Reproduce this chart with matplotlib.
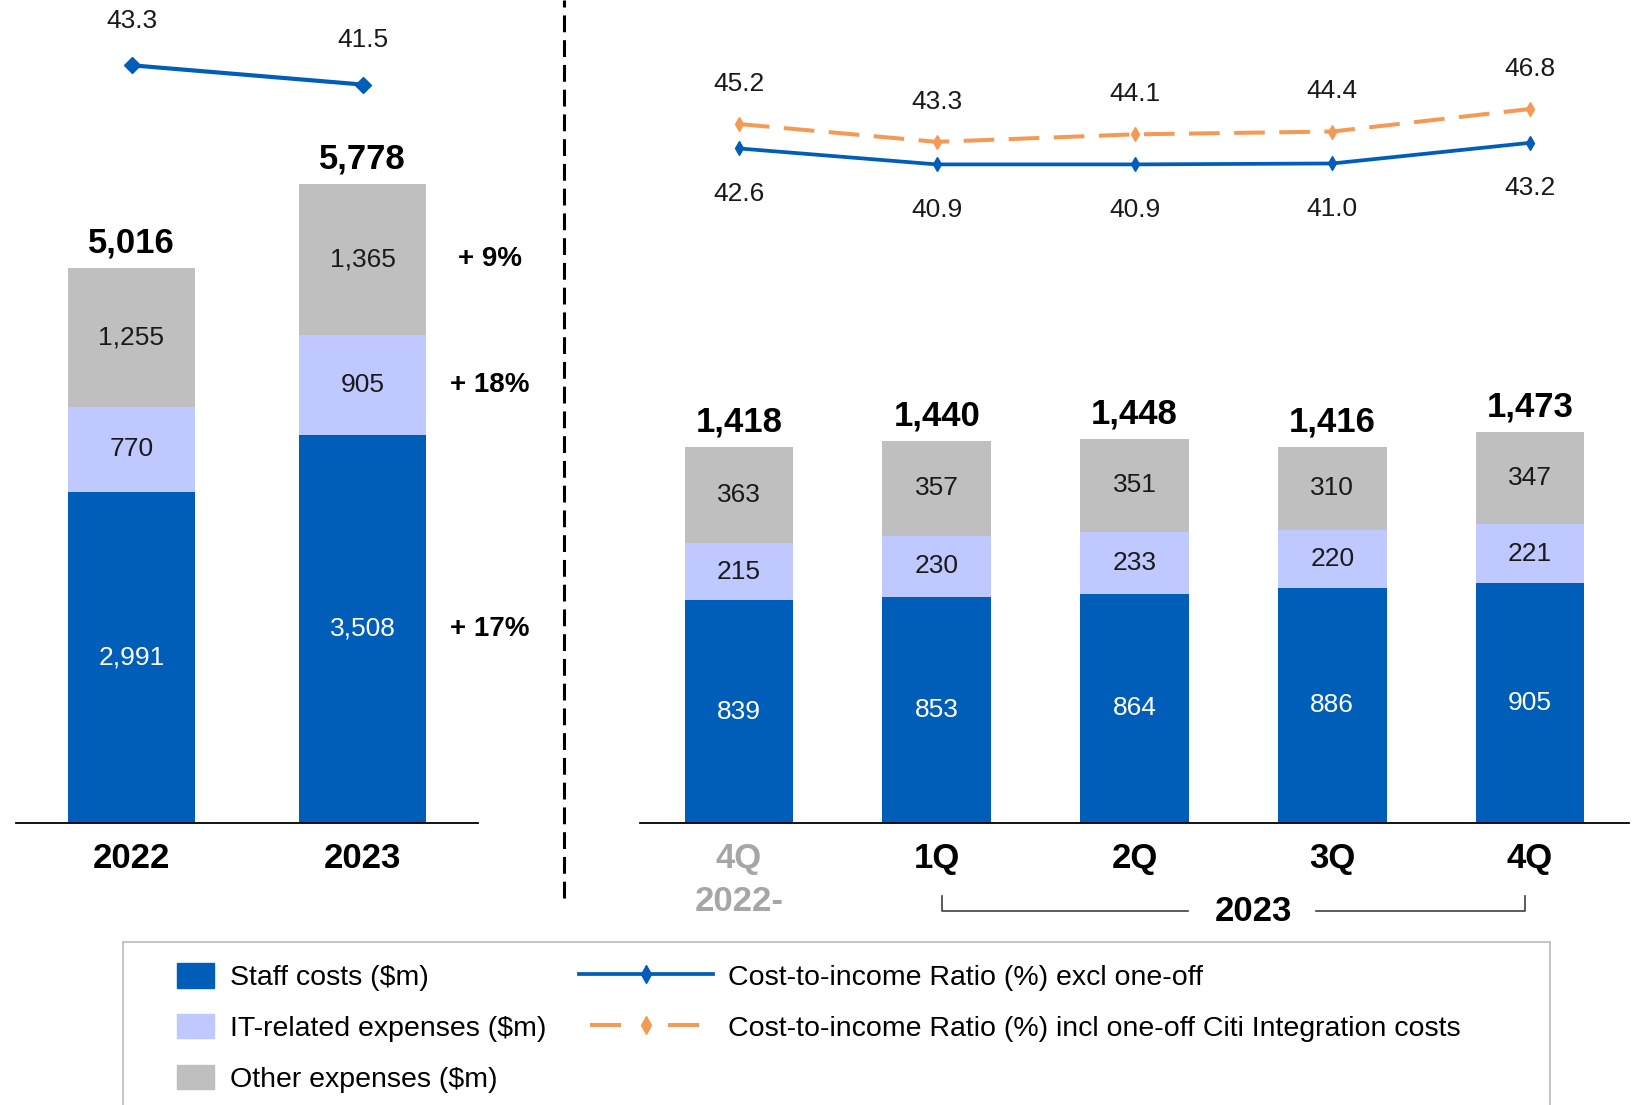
import matplotlib

matplotlib.use("agg")
from matplotlib import pyplot as plt
from matplotlib.lines import Line2D
from matplotlib.patches import Patch, Rectangle
import numpy as np

plt.rcParams["font.family"] = ["Liberation Sans", "DejaVu Sans"]

# full-year figures ($m) and cost-to-income ratio (%)
years = ["2022", "2023"]
staff_y = [2991, 3508]
it_y = [770, 905]
other_y = [1255, 1365]
total_y = [5016, 5778]
cir_excl_y = [43.3, 41.5]

# quarterly figures
quarters = ["4Q\n2022-", "1Q", "2Q", "3Q", "4Q"]
staff_q = [839, 853, 864, 886, 905]
it_q = [215, 230, 233, 220, 221]
other_q = [363, 357, 351, 310, 347]
total_q = [1418, 1440, 1448, 1416, 1473]
cir_excl_q = [42.6, 40.9, 40.9, 41.0, 43.2]
cir_incl_q = [45.2, 43.3, 44.1, 44.4, 46.8]

BLUE = "#005EB8"
LAVENDER = "#C0C9FF"
GREY = "#BFBFBF"
ORANGE = "#F59A55"
DARK = "#1a1a1a"

W, H = 1637, 1105
fig = plt.figure(figsize=(W / 100, H / 100), dpi=100)


def px_axes(x0, x1, y_base):
    # axes spanning x0..x1 pixels, from the baseline up to the top of the figure
    return fig.add_axes([x0 / W, (H - y_base) / H, (x1 - x0) / W, y_base / H])


def stacked(ax, labels, staff, it, other, totals, ymax):
    x = np.arange(len(labels))
    width = 0.55
    b1 = ax.bar(x, staff, width, color=BLUE)
    b2 = ax.bar(x, it, width, bottom=staff, color=LAVENDER)
    b3 = ax.bar(x, other, width, bottom=np.add(staff, it), color=GREY)
    ax.bar_label(b1, fmt="{:,.0f}", label_type="center", color="white", fontsize=19)
    ax.bar_label(b2, fmt="{:,.0f}", label_type="center", color=DARK, fontsize=19)
    ax.bar_label(b3, fmt="{:,.0f}", label_type="center", color=DARK, fontsize=19)
    ax.bar_label(b3, labels=[f"{t:,}" for t in totals], padding=6,
                 fontsize=25, fontweight="bold", color="black")
    ax.set_xlim(-0.5, len(labels) - 0.5)
    ax.set_ylim(0, ymax)
    ax.set_xticks(x, labels, fontsize=25, fontweight="bold", linespacing=1.35)
    ax.tick_params(axis="x", length=0, pad=14)
    ax.set_yticks([])
    for s in ["top", "left", "right"]:
        ax.spines[s].set_visible(False)
    ax.spines["bottom"].set_linewidth(1.3)
    ax.patch.set_visible(False)
    return x


def ratio_axes(ax, lo, hi):
    ax2 = ax.twinx()
    ax2.set_ylim(lo, hi)
    ax2.axis("off")
    return ax2


# left panel: full year
ax_l = px_axes(16, 478, 823)
xl = stacked(ax_l, years, staff_y, it_y, other_y, total_y, 7438)

# year-on-year change next to each 2023 segment
bottoms = [0, staff_y[1], staff_y[1] + it_y[1]]
for prev, cur, base in zip([staff_y[0], it_y[0], other_y[0]],
                           [staff_y[1], it_y[1], other_y[1]], bottoms):
    ax_l.text(1.55, base + cur / 2, f"+ {(cur / prev - 1) * 100:.0f}%",
              ha="center", va="center", fontsize=20, fontweight="bold")

axl2 = ratio_axes(ax_l, -27.5, 49.4)
axl2.plot(xl, cir_excl_y, color=BLUE, lw=3, marker="D", ms=8)
for xi, v in zip(xl, cir_excl_y):
    axl2.annotate(f"{v:.1f}", (xi, v), xytext=(0, 32), textcoords="offset points",
                  ha="center", va="center", fontsize=19, color=DARK)

# right panel: quarterly
ax_r = px_axes(640, 1629, 823)
xr = stacked(ax_r, quarters, staff_q, it_q, other_q, total_q, 3102)
ax_r.get_xticklabels()[0].set_color("#A6A6A6")

axr2 = ratio_axes(ax_r, -29.2, 58.4)
orange_ls = (0, (7.6, 3.6))
axr2.plot(xr, cir_incl_q, color=ORANGE, lw=2.9, ls=orange_ls, marker="d", ms=7)
axr2.plot(xr, cir_excl_q, color=BLUE, lw=2.7, marker="d", ms=7)
for xi, v in zip(xr, cir_incl_q):
    axr2.annotate(f"{v:.1f}", (xi, v), xytext=(0, 29), textcoords="offset points",
                  ha="center", va="center", fontsize=19, color=DARK)
for xi, v in zip(xr, cir_excl_q):
    axr2.annotate(f"{v:.1f}", (xi, v), xytext=(0, -32.5), textcoords="offset points",
                  ha="center", va="center", fontsize=19, color=DARK)

# bracket grouping the 2023 quarters
tr = ax_r.get_xaxis_transform()
yb0, yb1 = -0.0887, -0.107
ax_r.add_line(Line2D([1.025, 1.025, 2.27], [yb0, yb1, yb1], transform=tr,
                     color="#404040", lw=1.2, clip_on=False))
ax_r.add_line(Line2D([2.92, 3.975, 3.975], [yb1, yb1, yb0], transform=tr,
                     color="#404040", lw=1.2, clip_on=False))
ax_r.text(2.6, yb1, "2023", transform=tr, ha="center", va="center",
          fontsize=25, fontweight="bold")

# dashed separator between the two panels
fig.add_artist(Line2D([564 / W, 564 / W], [1 - 898 / H, 1], color="black",
                      lw=2.2, ls=(0, (5.5, 2.6))))

# legend frame, open at the bottom edge
fig.add_artist(Rectangle((123 / W, -0.05), (1550 - 123) / W, (H - 942) / H + 0.05,
                         transform=fig.transFigure, fill=False, ec="#BFBFBF", lw=1.3))

leg_top = 1 - 963 / H
fig.legend(handles=[Patch(color=BLUE, label="Staff costs ($m)"),
                    Patch(color=LAVENDER, label="IT-related expenses ($m)"),
                    Patch(color=GREY, label="Other expenses ($m)")],
           loc="upper left", bbox_to_anchor=(177 / W, leg_top), frameon=False,
           borderpad=0, borderaxespad=0, handlelength=1.3, handleheight=0.95,
           handletextpad=0.55, labelspacing=0.8, fontsize=20.5)

px_pt = 0.72
leg_ls = (67 * px_pt / 2.9, (31 * px_pt / 2.9, 47 * px_pt / 2.9))
fig.legend(handles=[Line2D([], [], color=BLUE, lw=2.7, marker="d", ms=9,
                           label="Cost-to-income Ratio (%) excl one-off"),
                    Line2D([], [], color=ORANGE, lw=2.9, ls=leg_ls, marker="d", ms=9,
                           label="Cost-to-income Ratio (%) incl one-off Citi Integration costs")],
           loc="upper left", bbox_to_anchor=(579 / W, leg_top), frameon=False,
           borderpad=0, borderaxespad=0, handlelength=4.7, handleheight=0.95,
           handletextpad=0.52, labelspacing=0.8, fontsize=20.5, numpoints=1)

fig.savefig("out.png", dpi=100)
